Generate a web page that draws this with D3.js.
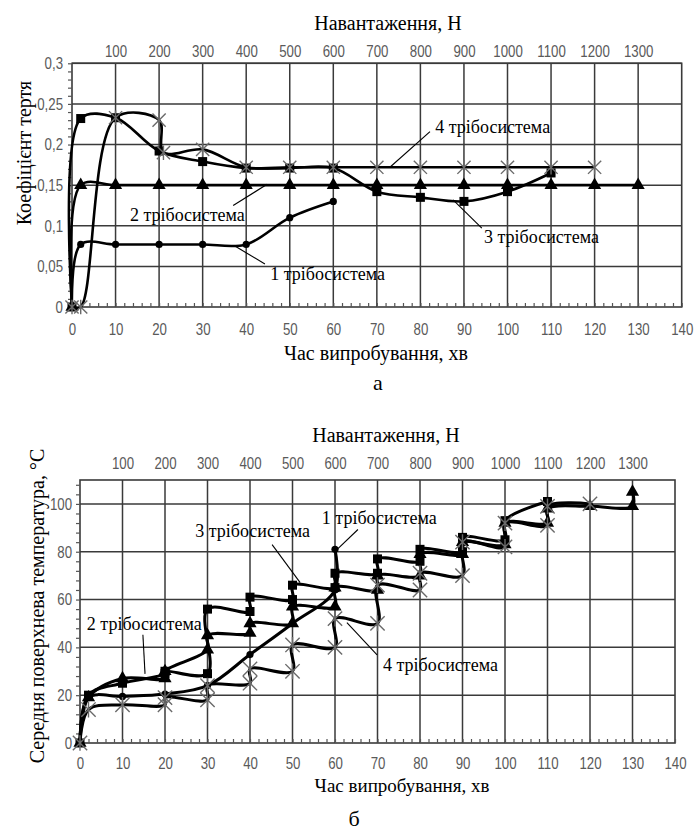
<!DOCTYPE html>
<html><head><meta charset="utf-8">
<script src="https://cdn.jsdelivr.net/npm/d3@7"></script>
<style>body{margin:0;background:#fff}</style>
</head><body><svg id="c" width="699" height="832"></svg>
<script>
// ---------- DATA ----------
const timeTicks = [0,10,20,30,40,50,60,70,80,90,100,110,120,130,140];
const loadTicks = [100,200,300,400,500,600,700,800,900,1000,1100,1200,1300];
const frictionTicks = [0,0.05,0.1,0.15,0.2,0.25,0.3];
const frictionTickLabels = ["0","0,05","0,1","0,15","0,2","0,25","0,3"];
const tempTicks = [0,20,40,60,80,100];

// (a) friction coefficient vs time
const friction1 = [[0,0],[2,0.077],[10,0.077],[20,0.077],[30,0.077],[40,0.077],[50,0.11],[60,0.13]];
const friction2 = [[0,0],[2,0.15],[10,0.15],[20,0.15],[30,0.15],[40,0.15],[50,0.15],[60,0.15],[70,0.15],[80,0.15],[90,0.15],[100,0.15],[110,0.15],[120,0.15],[130,0.15]];
const friction3 = [[0,0],[2,0.232],[10,0.233],[20,0.192],[30,0.179],[40,0.171],[50,0.171],[60,0.171],[70,0.142],[80,0.135],[90,0.130],[100,0.142],[110,0.165]];
const friction4 = [[0,0],[2,0],[10,0.233],[20,0.23],[21,0.19],[30,0.194],[40,0.172],[50,0.172],[60,0.172],[70,0.172],[80,0.172],[90,0.172],[100,0.172],[110,0.172],[120,0.172]];

// (b) mean surface temperature vs time
const temp1 = [[0,0],[2,19],[10,19.5],[20,20.5],[30,24],[40,37],[50,50],[60,64],[60,81]];
const temp2 = [[0,0],[2,19],[10,27],[20,27],[20,30],[30,39],[30,45],[40,46],[40,50],[50,50],[50,57],[60,57],[60,65],[70,64],[70,70],[80,70],[80,79],[90,79],[90,84],[100,83],[100,92],[110,92],[110,98],[120,99],[130,99],[130,105]];
const temp3 = [[0,0],[2,20],[10,25],[20,29],[20,30],[30,29],[30,56],[40,55],[40,61],[50,60],[50,66],[60,65],[60,71],[70,71],[70,77],[80,76],[80,81],[90,80],[90,86],[100,85],[100,93],[110,101]];
const temp4 = [[0,0],[2,14],[10,16],[20,16],[20,19],[30,18],[30,24],[40,25],[40,31],[50,30],[50,41],[60,40],[60,52],[70,50],[70,66],[80,64],[80,71],[90,70],[90,84],[100,82],[100,92],[110,91],[110,99],[120,100]];

const seriesNames = ["1 трібосистема","2 трібосистема","3 трібосистема","4 трібосистема"];
// annotation anchors in data units: [textX, textY, lineX1, lineY1, lineX2, lineY2]
const frictionNotes = [[45.5,0.033,37.4,0.075,44.3,0.053],[13.3,0.106,37.0,0.125,44.8,0.151],[94.6,0.079,87.5,0.132,94.1,0.097],[83.4,0.214,82.2,0.216,73.0,0.172]];
const tempNotes = [[56.9,91.4,65.4,89.3,60.7,81.3],[1.6,47.4,14.8,45.3,15.3,28.9],[27.1,86.0,45.2,83.0,51.8,67.1],[71.3,30.2,62.8,50.3,69.9,36.9]];

// ---------- DRAW ----------
const svg = d3.select('#c');
svg.append('rect').attr('width',699).attr('height',832).attr('fill','#fff');
const SERIF = '"Liberation Serif","Times New Roman",serif';
const TICKF = '"Liberation Sans",Arial,sans-serif';
const GRID = '#3a3a3a';
const SX = 0.78; // condensed tick labels

function marker(sel, type, sz){
  if(type==='circle') sel.append('circle').attr('r',sz*0.45).attr('fill','#000');
  else if(type==='square') sel.append('rect').attr('x',-sz/2).attr('y',-sz/2).attr('width',sz).attr('height',sz).attr('fill','#000');
  else if(type==='triangle') sel.append('path').attr('d',d3.symbol().type(d3.symbolTriangle).size(sz*sz*0.75)()).attr('fill','#000');
  else {
    const s=sz*0.55;
    sel.append('path').attr('d',`M${-s},${-s}L${s},${s}M${-s},${s}L${s},${-s}M0,${-s*1.1}L0,${s*1.1}`)
      .attr('stroke','#6a6a6a').attr('stroke-width',1.4).attr('fill','none');
  }
}

function chart(o){
  const g = svg.append('g');
  const x = d3.scaleLinear().domain([0,140]).range([o.left,o.right]);
  const y = d3.scaleLinear().domain([0,o.ymax]).range([o.bottom,o.top]);
  // grid
  g.append('g').selectAll('line').data(timeTicks.slice(1,-1)).join('line')
    .attr('x1',d=>x(d)).attr('x2',d=>x(d)).attr('y1',o.top).attr('y2',o.bottom)
    .attr('stroke',GRID).attr('stroke-width',1.5);
  g.append('g').selectAll('line').data(o.yTicks.slice(1)).join('line')
    .attr('x1',o.left).attr('x2',o.right).attr('y1',d=>y(d)).attr('y2',d=>y(d))
    .attr('stroke',GRID).attr('stroke-width',1.5);
  g.append('rect').attr('x',o.left).attr('y',o.top).attr('width',o.right-o.left).attr('height',o.bottom-o.top)
    .attr('fill','none').attr('stroke',GRID).attr('stroke-width',1.6);
  // minor ticks
  g.append('g').attr('transform',`translate(0,${o.bottom})`)
    .call(d3.axisTop(x).tickValues(d3.range(0,141,2)).tickSize(4).tickFormat(''))
    .call(a=>a.select('.domain').remove()).selectAll('line').attr('stroke','#555').attr('stroke-width',1.2);
  g.append('g').attr('transform',`translate(${o.left},0)`)
    .call(d3.axisLeft(y).tickValues(o.minorY).tickSize(4).tickFormat(''))
    .call(a=>a.select('.domain').remove()).selectAll('line').attr('stroke','#555').attr('stroke-width',1.2);
  // tick labels
  const styleT = a=>{a.select('.domain').remove(); a.selectAll('line').remove();
    a.selectAll('text').attr('fill','#5a5a5a').attr('font-family',TICKF).attr('font-size',17)
      .attr('transform',`scale(${SX},1)`);};
  g.append('g').attr('transform',`translate(0,${o.bottom})`)
    .call(d3.axisBottom(x).tickValues(timeTicks).tickSize(0).tickPadding(o.padB)).call(styleT);
  g.append('g').attr('transform',`translate(0,${o.top})`)
    .call(d3.axisTop(x).tickValues(loadTicks.map(l=>l/10)).tickFormat(d=>String(d*10)).tickSize(0).tickPadding(o.padT)).call(styleT);
  g.append('g').attr('transform',`translate(${o.left},0)`)
    .call(d3.axisLeft(y).tickValues(o.yTicks).tickFormat((d,i)=>o.yLabels[i]).tickSize(0).tickPadding(o.padL/SX)).call(styleT);
  // titles
  const T = (txt,tx,ty,size,rot)=>g.append('text').text(txt).attr('x',tx).attr('y',ty)
    .attr('text-anchor','middle').attr('font-family',SERIF).attr('font-size',size)
    .attr('transform',rot?`rotate(-90,${tx},${ty})`:null);
  T('Навантаження, Н',o.topTitle[0],o.topTitle[1],20);
  T('Час випробування, хв',o.botTitle[0],o.botTitle[1],o.botTitleSize);
  T(o.yTitle,o.yTitlePos[0],o.yTitlePos[1],20,true);
  T(o.letter,o.letterPos[0],o.letterPos[1],22);
  // series
  const line = d3.line().x(d=>x(d[0])).y(d=>y(d[1])).curve(d3.curveCatmullRom.alpha(0.5));
  const types=['circle','triangle','square','star'];
  o.series.forEach((s,i)=>{
    g.append('path').datum(s).attr('d',line).attr('fill','none').attr('stroke','#000')
      .attr('stroke-width',o.lw).attr('stroke-linejoin','round');
    const mk = g.append('g').selectAll('g').data(s).join('g').attr('transform',d=>`translate(${x(d[0])},${y(d[1])})`);
    mk.each(function(){ marker(d3.select(this),types[i],o.msz[i]); });
  });
  // notes
  o.notes.forEach((n,i)=>{
    g.append('line').attr('x1',x(n[2])).attr('y1',y(n[3])).attr('x2',x(n[4])).attr('y2',y(n[5]))
      .attr('stroke','#000').attr('stroke-width',1.1);
    g.append('text').text(seriesNames[i]).attr('x',x(n[0])).attr('y',y(n[1]))
      .attr('font-family',SERIF).attr('font-size',18).attr('fill','#000');
  });
}

chart({left:72,right:681.7,top:63.3,bottom:307,ymax:0.3,yTicks:frictionTicks,yLabels:frictionTickLabels,
  minorY:d3.range(0,31,1).map(v=>v/100),padB:16,padT:6,padL:9,
  topTitle:[388,30],botTitle:[376,360],botTitleSize:20,yTitle:'Коефіцієнт тертя',yTitlePos:[31,153],letter:'а',letterPos:[378,390],
  series:[friction1,friction2,friction3,friction4],lw:2.6,msz:[8,10,9,12],notes:frictionNotes});

chart({left:80,right:675,top:480,bottom:743,ymax:110,yTicks:tempTicks,yLabels:tempTicks.map(String),
  minorY:d3.range(0,110,4),padB:14,padT:11,padL:8,
  topTitle:[386,442],botTitle:[402,792],botTitleSize:19,yTitle:'Середня поверхнева температура, °С',yTitlePos:[44,606],letter:'б',letterPos:[354,826],
  series:[temp1,temp2,temp3,temp4],lw:3,msz:[8,10,9,13],notes:tempNotes});
</script></body></html>
